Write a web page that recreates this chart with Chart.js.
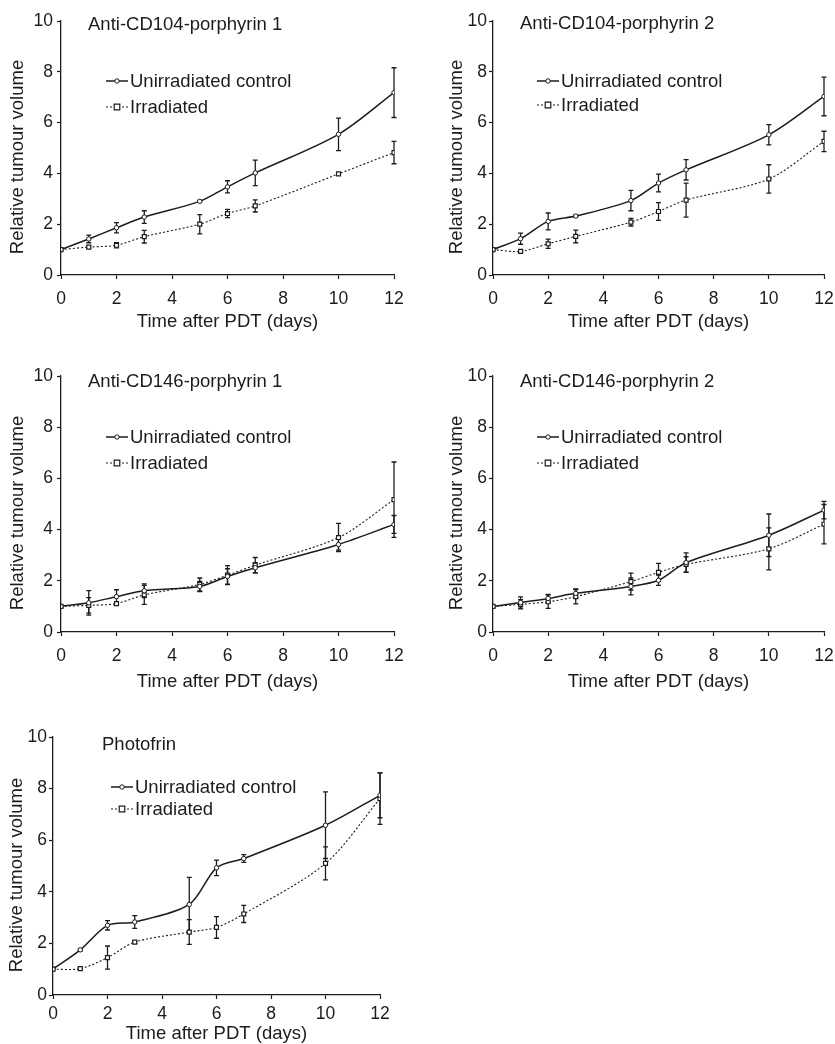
<!DOCTYPE html>
<html>
<head>
<meta charset="utf-8">
<title>Relative tumour volume after PDT</title>
<script src="https://cdn.jsdelivr.net/npm/chart.js@4.4.0/dist/chart.umd.min.js"></script>
<style>
  html, body { margin: 0; padding: 0; background: #fff; }
  #page { position: relative; width: 835px; height: 1044px; overflow: hidden; }
  #page canvas { position: absolute; }
</style>
</head>
<body>
<div id="page"></div>
<script>
"use strict";

// ---- data ----
var days = [0, 1, 2, 3, 5, 6, 7, 10, 12];
var xTicks = [0, 2, 4, 6, 8, 10, 12];
var yTicks = [0, 2, 4, 6, 8, 10];
var seriesLabels = ["Unirradiated control", "Irradiated"];
var panelTitles = ["Anti-CD104-porphyrin 1", "Anti-CD104-porphyrin 2", "Anti-CD146-porphyrin 1", "Anti-CD146-porphyrin 2", "Photofrin"];
var xTitle = "Time after PDT (days)";
var yTitle = "Relative tumour volume";

var cd104p1Control    = [1, 1.42, 1.86, 2.28, 2.9, 3.47, 4.02, 5.54, 7.18];
var cd104p1ControlErr = [0, 0.15, 0.2, 0.25, 0.04, 0.24, 0.5, 0.64, 0.98];
var cd104p1Irrad      = [1, 1.1, 1.17, 1.51, 2.0, 2.42, 2.72, 3.98, 4.82];
var cd104p1IrradErr   = [0, 0.05, 0.1, 0.25, 0.38, 0.16, 0.24, 0.03, 0.44];

var cd104p2Control    = [1, 1.43, 2.11, 2.32, 2.93, 3.62, 4.14, 5.52, 7.03];
var cd104p2ControlErr = [0, 0.22, 0.33, 0.05, 0.4, 0.35, 0.4, 0.4, 0.76];
var cd104p2Irrad      = [1, 0.93, 1.23, 1.52, 2.08, 2.5, 2.95, 3.78, 5.26];
var cd104p2IrradErr   = [0, 0.04, 0.18, 0.25, 0.15, 0.35, 0.67, 0.56, 0.4];

var cd146p1Control    = [1, 1.14, 1.38, 1.61, 1.78, 2.17, 2.51, 3.42, 4.2];
var cd146p1ControlErr = [0, 0.48, 0.27, 0.27, 0.2, 0.3, 0.2, 0.22, 0.35];
var cd146p1Irrad      = [1, 1.04, 1.11, 1.45, 1.86, 2.22, 2.61, 3.69, 5.17];
var cd146p1IrradErr   = [0, 0.3, 0.04, 0.37, 0.25, 0.37, 0.3, 0.55, 1.47];

var cd146p2Control    = [1, 1.15, 1.31, 1.51, 1.78, 2.02, 2.71, 3.78, 4.76];
var cd146p2ControlErr = [0, 0.22, 0.16, 0.17, 0.33, 0.2, 0.38, 0.83, 0.34];
var cd146p2Irrad      = [1, 1.08, 1.18, 1.38, 1.97, 2.33, 2.64, 3.25, 4.21];
var cd146p2IrradErr   = [0, 0.18, 0.26, 0.28, 0.33, 0.35, 0.3, 0.82, 0.77];

var photofrinControl    = [1, 1.75, 2.7, 2.83, 3.51, 4.93, 5.29, 6.58, 7.74];
var photofrinControlErr = [0, 0.05, 0.18, 0.25, 1.05, 0.3, 0.15, 1.29, 0.87];
var photofrinIrrad      = [1, 1.02, 1.45, 2.05, 2.44, 2.62, 3.14, 5.1, 7.61];
var photofrinIrradErr   = [0, 0.03, 0.45, 0.04, 0.48, 0.42, 0.33, 0.64, 1.0];

// ---- layout of the five panels (absolute page pixels) ----
var FONT = '"Liberation Sans", Arial, Helvetica, sans-serif';
var INK = "#1c1c1c";
var TEXT_SIZE = 18.5;
var TICK_SIZE = 17.5;

// right-hand canvases run past the page edge so the "12" label gets clipped like the original
var panels = [
    { title: panelTitles[0], control: cd104p1Control, controlErr: cd104p1ControlErr, irrad: cd104p1Irrad, irradErr: cd104p1IrradErr,
      canvas: { x: 0, y: 0, w: 415, h: 335 }, area: { l: 61, t: 21, r: 394, b: 275 },
      xTitleY: 322, xTickGap: 10, yTitleX: 18, yTickGap: 4, titlePos: [27, 4], legendY: [60, 86], legendX: 45 },
    { title: panelTitles[1], control: cd104p2Control, controlErr: cd104p2ControlErr, irrad: cd104p2Irrad, irradErr: cd104p2IrradErr,
      canvas: { x: 415, y: 0, w: 445, h: 335 }, area: { l: 493, t: 21, r: 824, b: 275 },
      xTitleY: 322, xTickGap: 10, yTitleX: 457, yTickGap: 2, titlePos: [27, 3], legendY: [60, 84], legendX: 44 },
    { title: panelTitles[2], control: cd146p1Control, controlErr: cd146p1ControlErr, irrad: cd146p1Irrad, irradErr: cd146p1IrradErr,
      canvas: { x: 0, y: 345, w: 415, h: 350 }, area: { l: 61, t: 376, r: 394, b: 632 },
      xTitleY: 682, xTickGap: 10, yTitleX: 18, yTickGap: 4, titlePos: [27, 6], legendY: [61, 87], legendX: 45 },
    { title: panelTitles[3], control: cd146p2Control, controlErr: cd146p2ControlErr, irrad: cd146p2Irrad, irradErr: cd146p2IrradErr,
      canvas: { x: 415, y: 345, w: 445, h: 350 }, area: { l: 493, t: 376, r: 824, b: 632 },
      xTitleY: 682, xTickGap: 10, yTitleX: 457, yTickGap: 2, titlePos: [27, 6], legendY: [61, 87], legendX: 44 },
    { title: panelTitles[4], control: photofrinControl, controlErr: photofrinControlErr, irrad: photofrinIrrad, irradErr: photofrinIrradErr,
      canvas: { x: 0, y: 700, w: 415, h: 344 }, area: { l: 53, t: 737, r: 380, b: 995 },
      xTitleY: 1034, xTickGap: 5, yTitleX: 17, yTickGap: 2, titlePos: [49, 8], legendY: [50, 72], legendX: 58 }
];

function toPoints(values) {
    return values.map(function (v, i) { return { x: days[i], y: v }; });
}

function drawMarker(ctx, style, x, y) {
    ctx.save();
    ctx.fillStyle = "#fff";
    ctx.strokeStyle = INK;
    ctx.setLineDash([]);
    ctx.beginPath();
    if (style === "rect") {
        ctx.lineWidth = 1.2;
        ctx.rect(x - 2.8, y - 2.8, 5.6, 5.6);
    } else {
        ctx.lineWidth = 1;
        ctx.arc(x, y, 2.2, 0, Math.PI * 2);
    }
    ctx.fill();
    ctx.stroke();
    ctx.restore();
}

// error bars are drawn under the markers
var errorBarPlugin = {
    id: "errorBars",
    beforeDatasetsDraw: function (chart) {
        var ctx = chart.ctx;
        var xs = chart.scales.x, ys = chart.scales.y;
        ctx.save();
        ctx.strokeStyle = INK;
        ctx.lineWidth = 1.3;
        ctx.setLineDash([]);
        chart.data.datasets.forEach(function (ds) {
            ds.data.forEach(function (p, j) {
                var e = ds.errors[j];
                if (!e) return;
                var x = xs.getPixelForValue(p.x);
                var y1 = ys.getPixelForValue(p.y + e);
                var y2 = ys.getPixelForValue(p.y - e);
                ctx.beginPath();
                ctx.moveTo(x, y1); ctx.lineTo(x, y2);
                ctx.moveTo(x - 2.5, y1); ctx.lineTo(x + 2.5, y1);
                ctx.moveTo(x - 2.5, y2); ctx.lineTo(x + 2.5, y2);
                ctx.stroke();
            });
        });
        ctx.restore();
    }
};

// panel heading, rotated y title and in-plot legend
var panelTextPlugin = {
    id: "panelText",
    afterDraw: function (chart, args, opts) {
        var ctx = chart.ctx;
        var a = chart.chartArea;
        ctx.save();
        ctx.fillStyle = INK;
        ctx.textBaseline = "middle";
        ctx.textAlign = "left";
        ctx.font = TEXT_SIZE + "px " + FONT;
        ctx.fillText(opts.title, a.left + opts.titlePos[0], a.top + opts.titlePos[1]);

        ctx.save();
        ctx.translate(opts.yTitleX, (a.top + a.bottom) / 2 + 9);
        ctx.rotate(-Math.PI / 2);
        ctx.textAlign = "center";
        ctx.fillText(yTitle, 0, 0);
        ctx.restore();

        chart.data.datasets.forEach(function (ds, i) {
            var y = a.top + opts.legendY[i];
            var x1 = a.left + opts.legendX, x2 = x1 + 22;
            ctx.save();
            ctx.strokeStyle = INK;
            ctx.lineWidth = ds.borderWidth;
            ctx.setLineDash(ds.borderDash || []);
            ctx.beginPath();
            ctx.moveTo(x1, y); ctx.lineTo(x2, y);
            ctx.stroke();
            ctx.restore();
            drawMarker(ctx, ds.pointStyle, (x1 + x2) / 2, y);
            ctx.fillStyle = INK;
            ctx.font = TEXT_SIZE + "px " + FONT;
            ctx.fillText(ds.label, x2 + 2, y + 1);
        });
        ctx.restore();
    }
};

function makePanel(p) {
    var c = document.createElement("canvas");
    c.width = p.canvas.w;
    c.height = p.canvas.h;
    c.style.left = p.canvas.x + "px";
    c.style.top = p.canvas.y + "px";
    document.getElementById("page").appendChild(c);

    var yWidth = p.area.l - p.canvas.x;
    var xHeight = p.canvas.y + p.canvas.h - p.area.b;

    return new Chart(c, {
        type: "line",
        data: {
            datasets: [{
                label: seriesLabels[0],
                data: toPoints(p.control),
                errors: p.controlErr,
                borderColor: INK,
                borderWidth: 1.5,
                pointStyle: "circle",
                pointRadius: 2.2,
                pointBorderWidth: 1,
                pointBackgroundColor: "#fff",
                pointBorderColor: INK,
                tension: 0.3
            }, {
                label: seriesLabels[1],
                data: toPoints(p.irrad),
                errors: p.irradErr,
                borderColor: INK,
                borderWidth: 1.1,
                borderDash: [2, 2],
                pointStyle: "rect",
                pointRadius: 2.8,
                pointBorderWidth: 1.2,
                pointBackgroundColor: "#fff",
                pointBorderColor: INK,
                tension: 0.3
            }]
        },
        options: {
            responsive: false,
            animation: false,
            events: [],
            layout: {
                padding: {
                    left: 0,
                    top: p.area.t - p.canvas.y,
                    right: p.canvas.x + p.canvas.w - p.area.r,
                    bottom: 0
                }
            },
            plugins: {
                legend: { display: false },
                tooltip: { enabled: false },
                panelText: { title: p.title, titlePos: p.titlePos, legendY: p.legendY, legendX: p.legendX,
                             yTitleX: p.yTitleX - p.canvas.x }
            },
            scales: {
                x: {
                    type: "linear",
                    min: 0, max: 12,
                    afterBuildTicks: function (s) { s.ticks = xTicks.map(function (v) { return { value: v }; }); },
                    afterFit: function (s) { s.height = xHeight; },
                    ticks: { color: INK, font: { family: FONT, size: TICK_SIZE }, padding: p.xTickGap, maxRotation: 0, autoSkip: false },
                    grid: { drawOnChartArea: false, drawTicks: true, tickLength: 4, color: INK, tickWidth: 1.2 },
                    border: { color: INK, width: 1.3 },
                    title: { display: true, text: xTitle, color: INK, font: { family: FONT, size: TEXT_SIZE, lineHeight: 1 },
                             padding: { top: 0, bottom: p.canvas.y + p.canvas.h - p.xTitleY - 9 } }
                },
                y: {
                    type: "linear",
                    min: 0, max: 10,
                    afterBuildTicks: function (s) { s.ticks = yTicks.map(function (v) { return { value: v }; }); },
                    afterFit: function (s) { s.width = yWidth; },
                    ticks: { color: INK, font: { family: FONT, size: TICK_SIZE }, padding: p.yTickGap },
                    grid: { drawOnChartArea: false, drawTicks: true, tickLength: 4, color: INK, tickWidth: 1.2 },
                    border: { color: INK, width: 1.3 },
                    title: { display: false }
                }
            }
        },
        plugins: [errorBarPlugin, panelTextPlugin]
    });
}

panels.forEach(makePanel);
</script>
</body>
</html>
